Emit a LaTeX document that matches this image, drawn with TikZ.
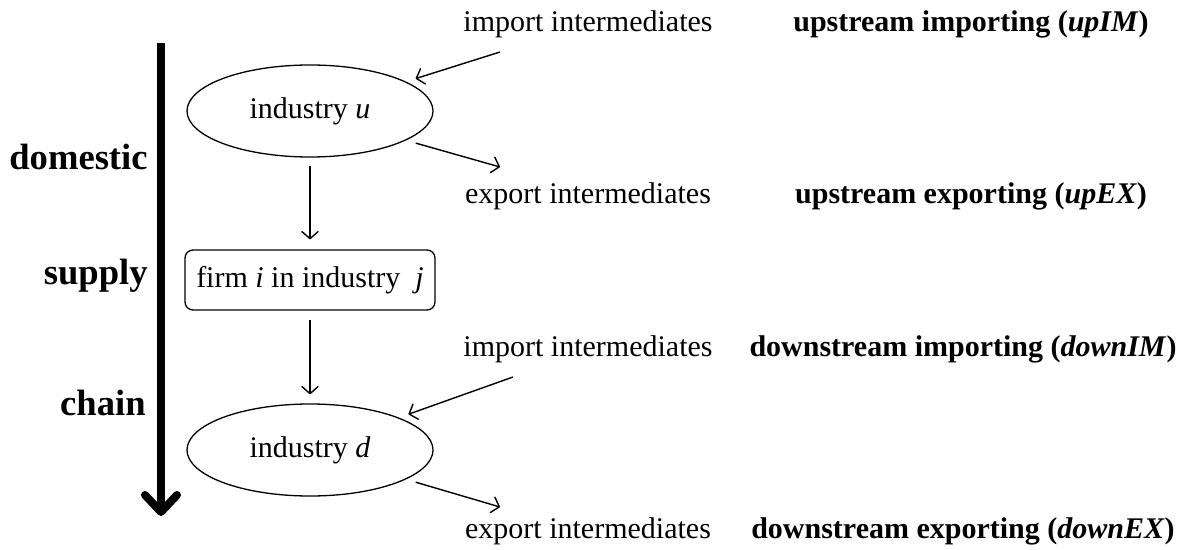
\documentclass[tikz,border=0pt]{standalone}
\usepackage{fontspec}
\setmainfont{Liberation Serif}
\usetikzlibrary{arrows.meta,shapes.geometric,calc}
\tikzset{
  lbl/.style={font=\fontsize{15}{18}\selectfont, inner sep=0pt},
  boldlbl/.style={lbl, font=\fontsize{15}{18}\selectfont\bfseries},
  side/.style={font=\fontsize{18.3}{22}\selectfont\bfseries, inner sep=0pt, anchor=east},
  indu/.style={draw, ellipse, line width=0.65pt, minimum width=123pt, minimum height=46pt, inner sep=0pt, font=\fontsize{15}{18}\selectfont},
  firmbox/.style={draw, rounded corners=4pt, line width=0.65pt, minimum width=125pt, minimum height=30pt, inner sep=1pt, font=\fontsize{15}{18}\selectfont},
  conn/.style={line width=0.7pt, -{Straight Barb[length=3.5pt,width=8pt,round]}},
  chainarrow/.style={line width=4pt, -{Straight Barb[length=8.5pt,width=16pt,round]}}
}
\begin{document}
\begin{tikzpicture}[x=0.5pt,y=-0.5pt]
\useasboundingbox (0,0) rectangle (1192,550);
% chain arrow
\coordinate (ctop) at (161,43);
\coordinate (cbot) at (161,516);
\draw[chainarrow] (ctop) -- (cbot);
\node[side] (dom) at (148,157) {domestic};
\node[side] (sup) at (148,276) {supply};
\node[side] (cha) at (146,403) {chain};
% nodes
\node[indu] (u) at (310,111) {industry \textit{u}};
\node[firmbox] (f) at (310,280) {firm \textit{i} in industry~ \textit{j}};
\node[indu] (d) at (310,450) {industry \textit{d}};
\draw[conn, shorten <=4pt, shorten >=5pt] (u.south) -- (f.north);
\draw[conn, shorten <=4.5pt, shorten >=4.5pt] (f.south) -- (d.north);
% texts
\node[lbl] (iu) at (588,24) {import intermediates};
\node[lbl] (eu) at (588,196) {export intermediates};
\node[lbl] (id) at (588,349) {import intermediates};
\node[lbl] (ed) at (588,531) {export intermediates};
\node[boldlbl] (upim) at (971,24) {upstream importing (\textit{upIM})};
\node[boldlbl] (upex) at (971,196) {upstream exporting (\textit{upEX})};
\node[boldlbl] (dnim) at (963,349) {downstream importing (\textit{downIM})};
\node[boldlbl] (dnex) at (963,531) {downstream exporting (\textit{downEX})};
% import/export arrows
\coordinate (iuS) at (500,52);
\coordinate (euE) at (500,167);
\coordinate (idS) at (513,377);
\coordinate (edE) at (500,507);
\draw[conn, shorten >=5pt] (iuS) -- (u.17);
\draw[conn, shorten <=5pt] (u.-17) -- (euE);
\draw[conn, shorten >=5pt] (idS) -- (d.20);
\draw[conn, shorten <=5pt] (d.-17) -- (edE);
\end{tikzpicture}
\end{document}
